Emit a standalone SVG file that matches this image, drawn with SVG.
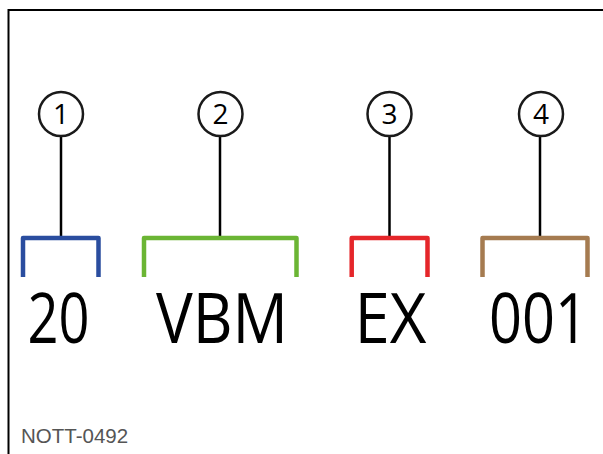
<svg xmlns="http://www.w3.org/2000/svg" width="603" height="454" viewBox="0 0 603 454">
<style>
.frame{fill:none;stroke:#000;stroke-width:2}
.callout circle{fill:#fff;stroke:#1a1a1a;stroke-width:2.5}
.callout text{font-family:"Open Sans","Noto Sans",sans-serif;font-size:28px;fill:#000;text-anchor:middle}
.lead{stroke:#000;stroke-width:2.5;fill:none}
.br{fill:none;stroke-width:4.5;stroke-linejoin:round}
.code{font-family:"Open Sans","Noto Sans",sans-serif;font-size:70px;fill:#000;text-anchor:middle}
.ref{font-family:"Liberation Sans",Arial,sans-serif;font-size:20.5px;fill:#555}
</style>
<rect width="603" height="454" fill="#fff"/>
<path class="frame" d="M8.5 454 V10 H603"/>
<g id="connectors">
<line class="lead" x1="61" y1="136" x2="61" y2="237"/>
<line class="lead" x1="220" y1="136" x2="220" y2="237"/>
<line class="lead" x1="389.5" y1="136" x2="389.5" y2="237"/>
<line class="lead" x1="540" y1="136" x2="540" y2="237"/>
</g>
<g id="node1">
<g class="callout"><circle cx="61" cy="114" r="22"/><text x="61" y="124">1</text></g>
<path class="br" stroke="#2a4d9f" d="M23 277 V238 H98.5 V277"/>
<text class="code" x="58.5" y="343" textLength="62" lengthAdjust="spacingAndGlyphs">20</text>
</g>
<g id="node2">
<g class="callout"><circle cx="220.5" cy="114" r="22"/><text x="220.5" y="124">2</text></g>
<path class="br" stroke="#6bb534" d="M144 277 V238 H296.5 V277"/>
<text class="code" x="222" y="343" textLength="132" lengthAdjust="spacingAndGlyphs">VBM</text>
</g>
<g id="node3">
<g class="callout"><circle cx="389.5" cy="114" r="22"/><text x="389.5" y="124">3</text></g>
<path class="br" stroke="#e5262a" d="M351.7 277 V238 H427.5 V277"/>
<text class="code" x="390.5" y="343" textLength="72" lengthAdjust="spacingAndGlyphs">EX</text>
</g>
<g id="node4">
<g class="callout"><circle cx="541" cy="114" r="22"/><text x="541" y="124">4</text></g>
<path class="br" stroke="#a57b50" d="M482.5 277 V238 H587.5 V277"/>
<text class="code" x="538.5" y="343" textLength="99" lengthAdjust="spacingAndGlyphs">001</text>
</g>
<text class="ref" x="21" y="443">NOTT-0492</text>
</svg>
